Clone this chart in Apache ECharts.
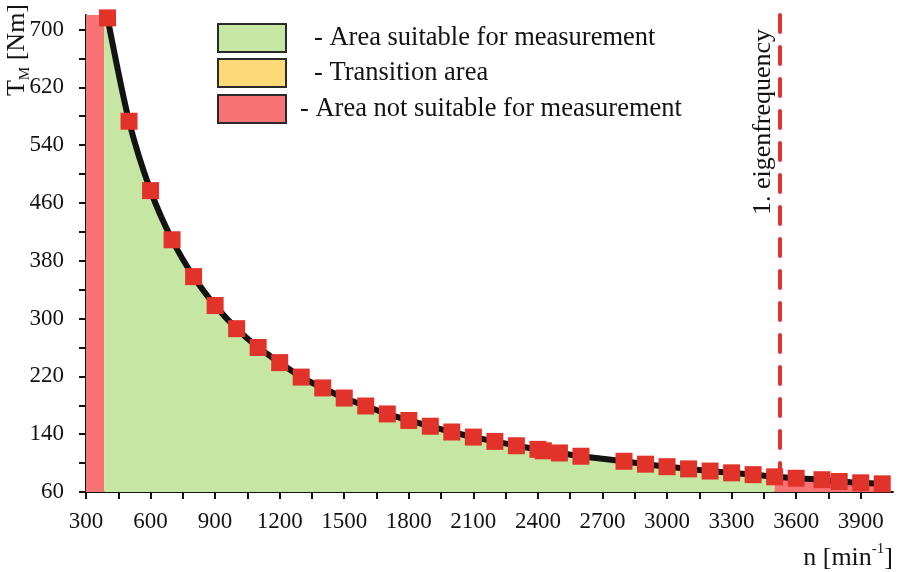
<!DOCTYPE html>
<html>
<head>
<meta charset="utf-8">
<script src="https://cdn.jsdelivr.net/npm/echarts@6/dist/echarts.min.js"></script>
<style>
  html, body { margin: 0; padding: 0; background: #fff; }
  #chart { width: 901px; height: 572px; }
</style>
</head>
<body>
<div id="chart"></div>
<script>
// measured points: speed n [1/min] -> torque T_M [Nm]
const speeds = [400, 500, 600, 700, 800, 900, 1000, 1100, 1200, 1300, 1400, 1500, 1600, 1700,
  1800, 1900, 2000, 2100, 2200, 2300, 2400, 2425, 2500, 2600, 2800, 2900, 3000, 3100, 3200,
  3300, 3400, 3500, 3600, 3720, 3800, 3900, 4000];
const torques = [716, 573, 477, 409, 358, 318, 286, 260, 239, 219, 204, 190, 179, 168,
  159, 151, 143, 136, 130, 124, 119, 117, 114, 109.5, 102.5, 98.5, 95, 92, 89,
  86.5, 84, 81, 79, 77, 74.5, 72.7, 71.3];

// where the green area starts at the left (speed, torque)
const fillStart = [385, 720];
const unsuitableLow = [300, 385];
const unsuitableFrom = 3500;
const eigenSpeed = 3525;

const xTicks = [300, 450, 600, 750, 900, 1050, 1200, 1350, 1500, 1650, 1800, 1950, 2100, 2250,
  2400, 2550, 2700, 2850, 3000, 3150, 3300, 3450, 3600, 3750, 3900];
const xLabels = [300, 600, 900, 1200, 1500, 1800, 2100, 2400, 2700, 3000, 3300, 3600, 3900];
const yTicks = [60, 100, 140, 180, 220, 260, 300, 340, 380, 420, 460, 500, 540, 580, 620, 660, 700];
const yLabels = [60, 140, 220, 300, 380, 460, 540, 620, 700];

const legendNames = ["- Area suitable for measurement", "- Transition area",
  "- Area not suitable for measurement"];

const GREEN = "#c6e6a3";
const YELLOW = "#fdd978";
const RED_FILL = "#f87474";
const MARKER = "#e2332a";
const DASH = "#e3342b";
const INK = "#131313";
const FONT = "'Liberation Serif', 'DejaVu Serif', serif";

const points = speeds.map((n, i) => [n, torques[i]]);
const greenPoints = [fillStart].concat(points.filter((p) => p[0] <= unsuitableFrom));
const redPoints = points.filter((p) => p[0] >= unsuitableFrom);

const chart = echarts.init(document.getElementById("chart"));

function xAxis(inside) {
  return {
    type: "value",
    min: 300,
    max: 4050,
    position: "bottom",
    axisLine: { show: !inside, onZero: false, lineStyle: { color: INK, width: 2 } },
    axisTick: { show: true, inside: inside, length: 7, customValues: xTicks,
      lineStyle: { color: INK, width: 2 } },
    axisLabel: { show: !inside, customValues: xLabels, color: INK, fontSize: 23,
      fontFamily: FONT, margin: 18, formatter: (v) => String(v) },
    splitLine: { show: false },
  };
}

function yAxis(inside) {
  return {
    type: "value",
    min: 60,
    max: 720,
    position: "left",
    axisLine: { show: !inside, onZero: false, lineStyle: { color: INK, width: 2 } },
    axisTick: { show: true, inside: inside, length: 7, customValues: yTicks,
      lineStyle: { color: INK, width: 2 } },
    axisLabel: { show: !inside, customValues: yLabels, color: INK, fontSize: 23,
      fontFamily: FONT, margin: 22, formatter: (v) => String(v) },
    splitLine: { show: false },
  };
}

const legendRows = [
  { y: 24, color: GREEN, textX: 314 },
  { y: 59, color: YELLOW, textX: 314 },
  { y: 95, color: RED_FILL, textX: 300 },
];

const graphics = [];
legendRows.forEach((row, i) => {
  graphics.push({
    type: "rect",
    shape: { x: 218, y: row.y, width: 68, height: 28 },
    style: { fill: row.color, stroke: "#2a2a2a", lineWidth: 2 },
    z: 10,
  });
  graphics.push({
    type: "text",
    x: row.textX,
    y: row.y + 14,
    style: { text: legendNames[i], fill: INK, font: "26.5px " + FONT,
      textAlign: "left", textVerticalAlign: "middle" },
    z: 10,
  });
});

graphics.push({
  type: "text",
  x: 17,
  y: 50,
  rotation: Math.PI / 2,
  style: {
    text: "{t|T}{s|M}{t| [Nm]}",
    textAlign: "center",
    textVerticalAlign: "middle",
    fill: INK,
    rich: {
      t: { fontSize: 26, fontFamily: FONT, lineHeight: 32, verticalAlign: "middle", fill: INK },
      s: { fontSize: 15, fontFamily: FONT, lineHeight: 32, verticalAlign: "bottom", fill: INK },
    },
  },
  z: 10,
});

graphics.push({
  type: "text",
  x: 893,
  y: 558,
  style: {
    text: "{t|n [min}{s|-1}{t|]}",
    textAlign: "right",
    textVerticalAlign: "middle",
    fill: INK,
    rich: {
      t: { fontSize: 26, fontFamily: FONT, lineHeight: 32, verticalAlign: "middle", fill: INK },
      s: { fontSize: 15, fontFamily: FONT, lineHeight: 32, verticalAlign: "top", fill: INK },
    },
  },
  z: 10,
});

graphics.push({
  type: "text",
  x: 763,
  y: 122,
  rotation: Math.PI / 2,
  style: { text: "1. eigenfrequency", fill: INK, font: "26px " + FONT,
    textAlign: "center", textVerticalAlign: "middle" },
  z: 10,
});

function fillSeries(name, data, color) {
  return {
    name: name,
    type: "line",
    data: data,
    smooth: 0.25,
    symbol: "none",
    lineStyle: { width: 0 },
    itemStyle: { color: color },
    areaStyle: { color: color, opacity: 1, origin: "start" },
    silent: true,
    z: 1,
  };
}

chart.setOption({
  animation: false,
  textStyle: { fontFamily: FONT },
  grid: { left: 86, right: 8, top: 15, bottom: 80, containLabel: false },
  xAxis: [xAxis(false), xAxis(true)],
  yAxis: [yAxis(false), yAxis(true)],
  series: [
    fillSeries("suitable", greenPoints, GREEN),
    fillSeries("not suitable", redPoints, RED_FILL),
    {
      name: "limits",
      type: "line",
      data: [],
      silent: true,
      z: 2,
      markArea: {
        silent: true,
        itemStyle: { color: RED_FILL, opacity: 1 },
        data: [[{ xAxis: unsuitableLow[0] }, { xAxis: unsuitableLow[1] }]],
      },
      markLine: {
        silent: true,
        symbol: ["none", "none"],
        label: { show: false },
        lineStyle: { color: DASH, width: 4, type: [17, 15], dashOffset: 20, cap: "round" },
        data: [{ xAxis: eigenSpeed }],
      },
    },
    {
      name: "torque",
      type: "line",
      data: points,
      smooth: 0.25,
      symbol: "rect",
      symbolSize: 17,
      showAllSymbol: true,
      lineStyle: { color: INK, width: 6 },
      itemStyle: { color: MARKER },
      silent: true,
      z: 3,
    },
  ],
  graphic: graphics,
});
</script>
</body>
</html>
